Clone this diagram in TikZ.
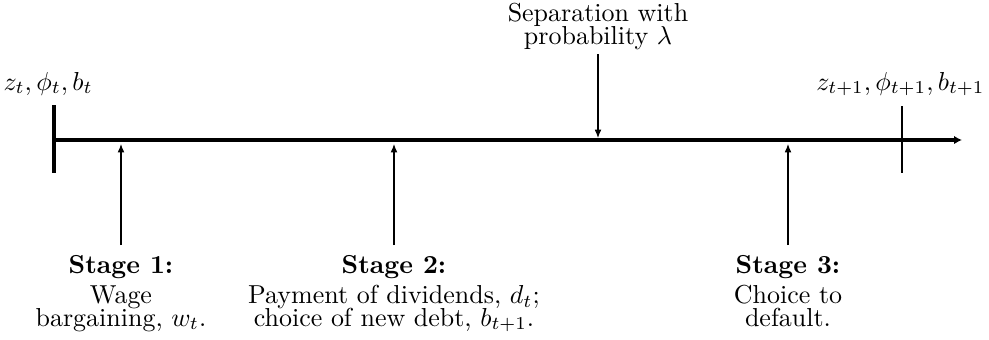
\documentclass[tikz,border=0pt]{standalone}
\usetikzlibrary{arrows.meta}
\newcommand\mytightlines{\fontsize{10pt}{8.6pt}\selectfont\lineskip=0pt\relax\lineskiplimit=-20pt\relax}
\begin{document}
\begin{tikzpicture}[x=0.385pt,y=-0.385pt,
  lbl/.style={align=center,inner sep=0pt,font=\mytightlines},
  thinarrow/.style={-{Latex[length=3.2pt,width=2.6pt]},line width=0.4pt}]
\useasboundingbox (0,0) rectangle (989,339);
% timeline
\coordinate (tl0) at (53,140);
\coordinate (tl1) at (962,140);
\draw[line width=1.6pt,-{Latex[length=3pt,width=3.2pt]}] (tl0) -- (tl1);
\coordinate (lt0) at (54,105);
\coordinate (lt1) at (54,173);
\draw[line width=1.5pt] (lt0) -- (lt1);
\coordinate (rt0) at (902,106);
\coordinate (rt1) at (902,173);
\draw[line width=0.4pt] (rt0) -- (rt1);
% state labels
\node[lbl,anchor=base west] (sl) at (3,90) {$z_t,\phi_t,b_t$};
\node[lbl,anchor=base east] (sr) at (985,90) {$z_{t+1},\phi_{t+1},b_{t+1}$};
% separation
\node[lbl,anchor=north] (sep) at (598,3) {Separation with\\probability $\lambda$};
\coordinate (sepend) at (598,138);
\draw[thinarrow] (sep.south) ++(0,4) -- (sepend);
% stages
\node[lbl,anchor=north] (s1) at (121,255) {\textbf{Stage 1:}\\[3pt] Wage\\bargaining, $w_t$.};
\node[lbl,anchor=north] (s2) at (394,255) {\textbf{Stage 2:}\\[3pt] Payment of dividends, $d_t$;\\choice of new debt, $b_{t+1}$.};
\node[lbl,anchor=north] (s3) at (788,255) {\textbf{Stage 3:}\\[3pt] Choice to\\default.};
\coordinate (a1) at (121,144);
\coordinate (a2) at (394,144);
\coordinate (a3) at (788,144);
\draw[thinarrow] (s1.north) ++(0,-10) -- (a1);
\draw[thinarrow] (s2.north) ++(0,-10) -- (a2);
\draw[thinarrow] (s3.north) ++(0,-10) -- (a3);
\end{tikzpicture}
\end{document}
